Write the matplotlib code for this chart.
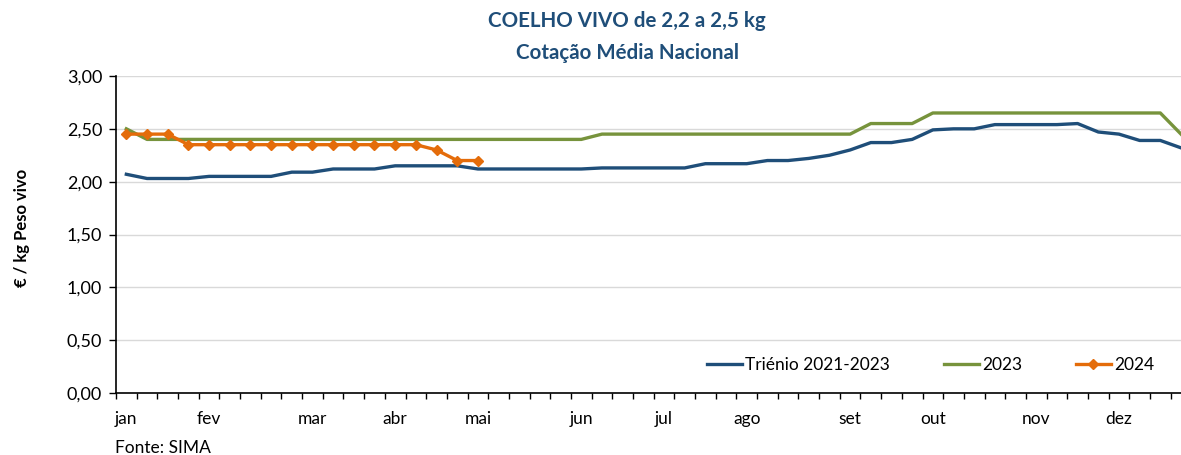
import matplotlib.pyplot as plt
from matplotlib.ticker import FixedLocator, FuncFormatter

# weekly prices (EUR / kg live weight), 52 weeks
trienio = [2.07, 2.03, 2.03, 2.03, 2.05, 2.05, 2.05, 2.05, 2.09, 2.09,
           2.12, 2.12, 2.12, 2.15, 2.15, 2.15, 2.15, 2.12, 2.12, 2.12,
           2.12, 2.12, 2.12, 2.13, 2.13, 2.13, 2.13, 2.13, 2.17, 2.17,
           2.17, 2.20, 2.20, 2.22, 2.25, 2.30, 2.37, 2.37, 2.40, 2.49,
           2.50, 2.50, 2.54, 2.54, 2.54, 2.54, 2.55, 2.47, 2.45, 2.39,
           2.39, 2.32]
y2023 = [2.50] + [2.40] * 22 + [2.45] * 13 + [2.55] * 3 + [2.65] * 12 + [2.45]
y2024 = [2.45, 2.45, 2.45, 2.35, 2.35, 2.35, 2.35, 2.35, 2.35, 2.35,
         2.35, 2.35, 2.35, 2.35, 2.35, 2.30, 2.20, 2.20]

months = ['jan', 'fev', 'mar', 'abr', 'mai', 'jun', 'jul', 'ago',
          'set', 'out', 'nov', 'dez']
month_week = [0, 4, 9, 13, 17, 22, 26, 30, 35, 39, 44, 48]

plt.rcParams['font.family'] = ['Lato', 'DejaVu Sans']

fig = plt.figure(figsize=(11.81, 4.55), dpi=100)
ax = fig.add_axes([116 / 1181, 62 / 455, 1 - 116 / 1181, 317 / 455])

blue = '#1F4E79'
green = '#77933C'
orange = '#E46C0A'

ax.plot(range(len(trienio)), trienio, color=blue, lw=2.4, label='Triénio 2021-2023')
ax.plot(range(len(y2023)), y2023, color=green, lw=2.4, label='2023')
ax.plot(range(len(y2024)), y2024, color=orange, lw=2.4, marker='D',
        markersize=5, label='2024')

ax.set_ylim(0, 3)
ax.set_xlim(-0.5, 51)
ax.set_yticks([0, 0.5, 1, 1.5, 2, 2.5, 3])
ax.yaxis.set_major_formatter(FuncFormatter(lambda v, p: f'{v:.2f}'.replace('.', ',')))
ax.grid(axis='y', color='#D9D9D9', lw=1)
ax.set_axisbelow(True)

# tick marks between categories, month labels on category centres
ax.xaxis.set_major_locator(FixedLocator([k - 0.5 for k in range(53)]))
ax.xaxis.set_major_formatter(FuncFormatter(lambda v, p: ''))
ax.xaxis.set_minor_locator(FixedLocator(month_week))
ax.set_xticklabels(months, minor=True)
ax.tick_params(axis='x', which='major', length=4, width=1, direction='out')
ax.tick_params(axis='x', which='minor', length=0, pad=13, labelsize=12.5)
ax.tick_params(axis='y', length=5, width=1, labelsize=13, pad=5)

for s in ['top', 'right']:
    ax.spines[s].set_visible(False)
ax.spines['left'].set_linewidth(1.2)
ax.spines['bottom'].set_linewidth(1.2)

ax.set_ylabel('€ / kg Peso vivo', fontsize=12, fontweight='bold')
ax.yaxis.set_label_coords(-0.081, 0.52)

ax.legend(loc='center left', bbox_to_anchor=((707 - 116) / 1065, 0.088), ncol=3,
          frameon=False, fontsize=12.5, handlelength=2.0, handletextpad=0.2,
          columnspacing=3.1, borderpad=0, borderaxespad=0)

fig.text(627 / 1181, 1 - 21 / 455, 'COELHO VIVO de 2,2 a 2,5 kg', ha='center', va='center',
         fontsize=14.8, fontweight='bold', color=blue)
fig.text(627 / 1181, 1 - 53 / 455, 'Cotação Média Nacional', ha='center', va='center',
         fontsize=14.8, fontweight='bold', color=blue)
fig.text(115 / 1181, 1 - 448 / 455, 'Fonte: SIMA', ha='left', va='center', fontsize=12.5)

fig.savefig('out.png', dpi=100)
